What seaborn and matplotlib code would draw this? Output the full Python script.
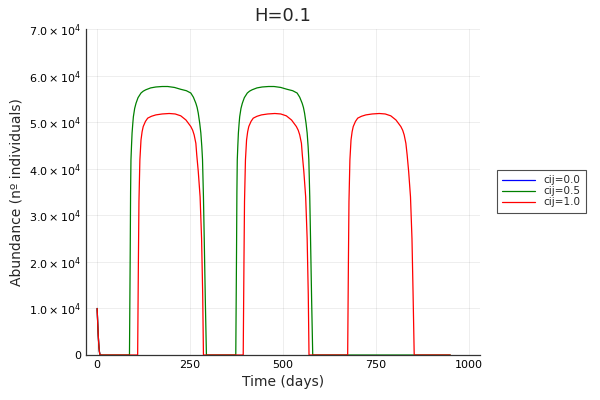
import pandas as pd
import matplotlib
matplotlib.use("Agg")
import matplotlib.pyplot as plt
import seaborn as sns

# values (abundance in units of 1e4 individuals)
decay_t = [0, 1, 2, 3, 4, 5, 6, 7, 8]
decay_v = [1.0, 0.8, 0.6, 0.42, 0.28, 0.16, 0.08, 0.03, 0.0]

blue_t = decay_t + [10]
blue_v = decay_v + [0.0]

green_b1_t = [87, 89, 90, 91, 92.5, 94, 96, 97.5, 101, 104.6, 110, 118, 124, 131, 144, 158,
              175, 190, 208, 225, 240, 252, 259, 265.6, 269, 272, 276, 279, 281.6, 283.5,
              286, 288, 291, 294]
green_b1_v = [0, 2.2, 3.5, 4.19, 4.5, 4.77, 4.98, 5.12, 5.3, 5.41, 5.53, 5.63, 5.67, 5.70,
              5.74, 5.76, 5.77, 5.77, 5.75, 5.71, 5.68, 5.63, 5.54, 5.41, 5.32, 5.2, 4.98,
              4.77, 4.48, 4.2, 3.4, 2.55, 1.2, 0]
green_b2_t = [373, 375, 376, 377, 378.5, 380, 382, 383.5, 387, 390.6, 396, 404, 410, 417,
              430, 444, 461, 476, 494, 511, 526, 538, 545, 551.6, 555, 558, 562, 565, 567.6,
              569.5, 572, 574, 577, 580]
green_b2_v = [0, 2.2, 3.5, 4.19, 4.5, 4.77, 4.98, 5.12, 5.3, 5.41, 5.53, 5.63, 5.67, 5.70,
              5.74, 5.76, 5.77, 5.77, 5.75, 5.71, 5.68, 5.63, 5.54, 5.41, 5.32, 5.2, 4.98,
              4.77, 4.48, 4.2, 3.4, 2.55, 1.2, 0]

red_b1_t = [109, 111, 112.5, 115, 118, 121, 124, 130, 136, 146, 158, 175, 194, 210, 225,
            239, 252, 257, 261, 265.6, 268, 272, 277, 281, 284, 286]
red_b1_v = [0, 2.0, 3.3, 4.19, 4.62, 4.80, 4.91, 5.02, 5.09, 5.13, 5.16, 5.18, 5.19, 5.18,
            5.14, 5.05, 4.91, 4.83, 4.73, 4.55, 4.3, 3.95, 3.4, 2.5, 1.3, 0]
red_b2_t = [393, 395, 396.5, 399, 402, 405, 408, 414, 420, 430, 442, 459, 478, 494, 509,
            523, 536, 541, 545, 549.6, 552, 556, 561, 565, 568, 570]
red_b2_v = [0, 2.0, 3.3, 4.19, 4.62, 4.80, 4.91, 5.02, 5.09, 5.13, 5.16, 5.18, 5.19, 5.18,
            5.14, 5.05, 4.91, 4.83, 4.73, 4.55, 4.3, 3.95, 3.4, 2.5, 1.3, 0]
red_b3_t = [674, 676, 677.5, 680, 683, 686, 689, 695, 701, 711, 723, 740, 759, 775, 790,
            804, 817, 822, 826, 830.6, 834, 838, 843, 847, 850, 853]
red_b3_v = [0, 2.0, 3.3, 4.19, 4.62, 4.80, 4.91, 5.02, 5.09, 5.13, 5.16, 5.18, 5.19, 5.18,
            5.14, 5.05, 4.91, 4.83, 4.73, 4.55, 4.3, 3.95, 3.4, 2.5, 1.3, 0]

green_t = decay_t + green_b1_t + green_b2_t + [950]
green_v = decay_v + green_b1_v + green_b2_v + [0.0]
red_t = decay_t + red_b1_t + red_b2_t + red_b3_t + [950]
red_v = decay_v + red_b1_v + red_b2_v + red_b3_v + [0.0]

labels = ["cij=0.0", "cij=0.5", "cij=1.0"]
colors = ["#0000ff", "#008000", "#ff0000"]
x_ticks = [0, 250, 500, 750, 1000]
y_ticks = [0, 1, 2, 3, 4, 5, 6, 7]
y_ticklabels = ["0"] + [rf"${v}.0\times10^{{4}}$" for v in y_ticks[1:]]

frames = []
for lab, t, v in zip(labels, [blue_t, green_t, red_t], [blue_v, green_v, red_v]):
    frames.append(pd.DataFrame({"t": t, "abund": [x * 1e4 for x in v], "series": lab}))
df = pd.concat(frames, ignore_index=True)

sns.set_style("white")
plt.rcParams["font.family"] = ["DejaVu Sans"]
plt.rcParams["mathtext.fontset"] = "dejavusans"

fig = plt.figure(figsize=(6, 4), dpi=100)
ax = fig.add_axes([0.1433, 0.1125, 0.6567, 0.8143])

sns.lineplot(data=df, x="t", y="abund", hue="series", hue_order=labels,
             palette=colors, estimator=None, sort=False, linewidth=0.9, ax=ax)

ax.set_xlim(-30, 1030)
ax.set_ylim(0, 70000)
ax.set_xticks(x_ticks)
ax.set_xticklabels([str(x) for x in x_ticks])
ax.set_yticks([v * 1e4 for v in y_ticks])
ax.set_yticklabels(y_ticklabels)
ax.tick_params(direction="in", length=3, width=0.8, labelsize=8, colors="#222222",
               labelcolor="black")
ax.grid(True, color="#000000", alpha=0.08, linewidth=0.6)
for side in ["top", "right"]:
    ax.spines[side].set_visible(False)
for side in ["left", "bottom"]:
    ax.spines[side].set_color("#333333")
    ax.spines[side].set_linewidth(0.9)

ax.set_xlabel("Time (days)", fontsize=10)
ax.set_ylabel("Abundance (nº individuals)", fontsize=10)
ax.set_title("H=0.1", fontsize=13)

handles, labs = ax.get_legend_handles_labels()
ax.get_legend().remove()
leg = fig.legend(handles, labs, loc="upper left", bbox_to_anchor=(0.828, 0.575),
                 fontsize=7.5, frameon=True, fancybox=False, borderaxespad=0,
                 handlelength=3.2, labelspacing=0.1, borderpad=0.5)
leg.get_frame().set_edgecolor("#222222")
leg.get_frame().set_linewidth(0.8)

fig.savefig("out.png", dpi=100)
